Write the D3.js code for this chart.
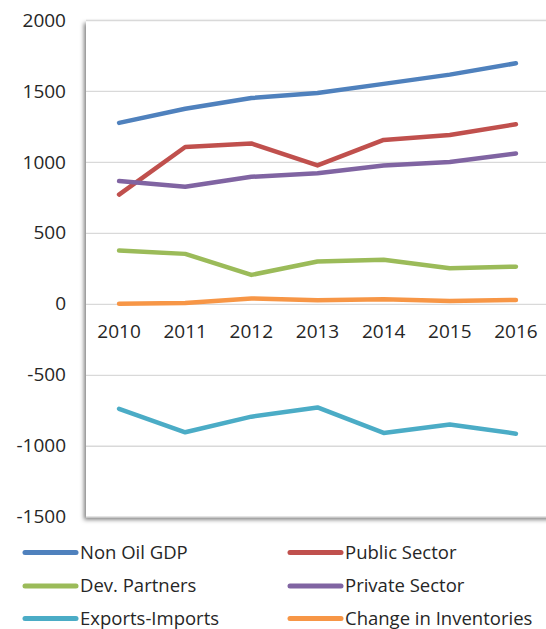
<!doctype html>
<html lang="en">
<head>
<meta charset="utf-8">
<title>Non Oil GDP and components</title>
<style>
body{margin:0;background:#fff;}
svg text{font-family:"Open Sans",sans-serif;fill:#262626;}
</style>
</head>
<body>
<script src="https://cdn.jsdelivr.net/npm/d3@7/dist/d3.min.js"></script>
<script>

var years = ["2010", "2011", "2012", "2013", "2014", "2015", "2016"];

var nonOilGdp     = [1275, 1375, 1450, 1485, 1550, 1615, 1695];
var publicSector  = [770, 1105, 1130, 975, 1155, 1190, 1265];
var devPartners   = [375, 352, 204, 298, 310, 251, 262];
var privateSector = [865, 825, 895, 920, 975, 1000, 1060];
var exportsImports = [-740, -905, -795, -730, -910, -850, -915];
var inventories   = [0, 5, 38, 25, 33, 20, 27];

var seriesNames  = ["Non Oil GDP", "Public Sector", "Dev. Partners", "Private Sector", "Exports-Imports", "Change in Inventories"];
var seriesColors = ["#4f81bd", "#c0504d", "#9bbb59", "#8064a2", "#4bacc6", "#f79646"];
var yTicks = [-1500, -1000, -500, 0, 500, 1000, 1500, 2000];

var series = [nonOilGdp, publicSector, devPartners, privateSector, exportsImports, inventories]
  .map(function(v, i){ return { name: seriesNames[i], color: seriesColors[i], values: v }; });

var W = 546, H = 629;
var plot = {left: 86, top: 20, right: 549, bottom: 516.7};

var svg = d3.select("body").append("svg")
    .attr("width", W)
    .attr("height", H);

var defs = svg.append("defs");
var shadow = defs.append("filter").attr("id", "shadow")
    .attr("x", "-5%").attr("y", "-5%").attr("width", "110%").attr("height", "110%");
shadow.append("feDropShadow")
    .attr("dx", -2).attr("dy", 3).attr("stdDeviation", 2)
    .attr("flood-color", "#000").attr("flood-opacity", 0.5);

svg.append("rect")
    .attr("x", plot.left)
    .attr("y", plot.top)
    .attr("width", 480)
    .attr("height", plot.bottom - plot.top)
    .attr("fill", "#fff")
    .attr("filter", "url(#shadow)");

var x = d3.scaleBand()
    .domain(years)
    .range([plot.left, plot.right])
    .padding(0);

var y = d3.scaleLinear()
    .domain([-1500, 2000])
    .range([plot.bottom, plot.top]);

// y axis + gridlines, plain hyphen minus like the original
var yAxis = svg.append("g")
    .attr("transform", "translate(" + plot.left + ",0)")
    .call(d3.axisLeft(y).tickValues(yTicks).tickFormat(function(d){ return String(d); })
      .tickSizeInner(-(W - plot.left)).tickSizeOuter(0).tickPadding(20));
yAxis.select(".domain").remove();
yAxis.selectAll("line").attr("stroke", "#d9d9d9").attr("stroke-width", 1.3);
yAxis.selectAll("text").style("font-size", "19px").attr("fill", "#262626");

// x axis at zero
var xAxis = svg.append("g")
    .attr("transform", "translate(0," + y(0) + ")")
    .call(d3.axisBottom(x).tickSize(0).tickPadding(21));
xAxis.select(".domain").remove();
xAxis.selectAll("text").style("font-size", "19px").attr("fill", "#262626");

var line = d3.line()
    .x(function(d, i){ return x(years[i]) + x.bandwidth() / 2; })
    .y(function(d){ return y(d); });

svg.selectAll(".series")
    .data(series)
    .enter()
    .append("path")
    .attr("class", "series")
    .attr("d", function(d){ return line(d.values); })
    .attr("fill", "none")
    .attr("stroke", function(d){ return d.color; })
    .attr("stroke-width", 4.5)
    .attr("stroke-linecap", "round")
    .attr("stroke-linejoin", "round");

// legend, two columns
var legX = [25, 290], legY = [552.5, 586, 618.5];
var leg = svg.selectAll(".legend")
    .data(series)
    .enter()
    .append("g")
    .attr("class", "legend")
    .attr("transform", function(d, i){ return "translate(" + legX[i % 2] + "," + legY[Math.floor(i / 2)] + ")"; });

leg.append("line")
    .attr("x1", 0).attr("x2", 51)
    .attr("stroke", function(d){ return d.color; })
    .attr("stroke-width", 5)
    .attr("stroke-linecap", "round");

leg.append("text")
    .attr("x", 55)
    .attr("dy", "0.35em")
    .style("font-size", "18.5px")
    .text(function(d){ return d.name; });

</script>
</body>
</html>
